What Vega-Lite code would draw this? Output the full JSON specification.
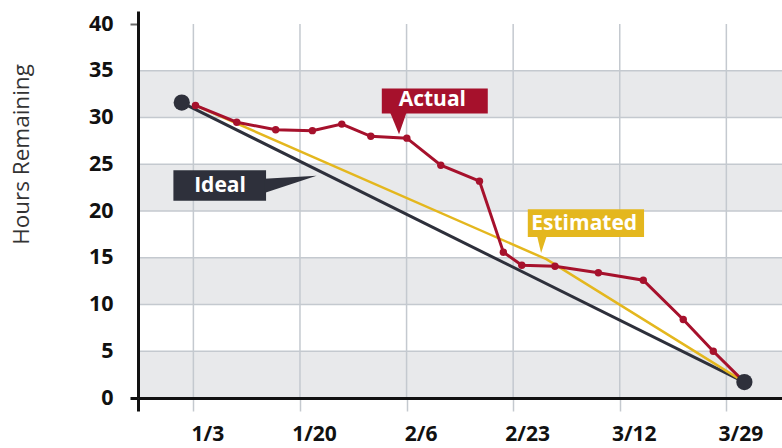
{
  "$schema": "https://vega.github.io/schema/vega-lite/v6.json",
  "width": 644,
  "height": 387,
  "autosize": {"type": "none"},
  "padding": {"left": 138, "top": 11, "right": 0, "bottom": 50},
  "background": "white",
  "config": {"view": {"stroke": null}, "font": "Open Sans"},
  "datasets": {
    "bands": [{"lo": 0, "hi": 5}, {"lo": 10, "hi": 15}, {"lo": 20, "hi": 25}, {"lo": 30, "hi": 35}],
    "grid": [{"v": 5}, {"v": 10}, {"v": 15}, {"v": 20}, {"v": 25}, {"v": 30}, {"v": 35}],
    "ticks": [{"date": "2023-01-03T00:00"}, {"date": "2023-01-20T00:00"}, {"date": "2023-02-06T00:00"}, {"date": "2023-02-23T00:00"}, {"date": "2023-03-12T00:00"}, {"date": "2023-03-29T00:00"}],
    "series": [
      {"series": "Ideal", "date": "2023-01-01T03:30", "hours": 31.6},
      {"series": "Ideal", "date": "2023-03-31T21:00", "hours": 1.7},
      {"series": "Estimated", "date": "2023-01-03T08:00", "hours": 31.3},
      {"series": "Estimated", "date": "2023-02-28T07:00", "hours": 14.85},
      {"series": "Estimated", "date": "2023-03-31T21:00", "hours": 1.7},
      {"series": "Actual", "date": "2023-01-03T08:00", "hours": 31.3},
      {"series": "Actual", "date": "2023-01-09T22:00", "hours": 29.5},
      {"series": "Actual", "date": "2023-01-16T03:00", "hours": 28.7},
      {"series": "Actual", "date": "2023-01-21T23:30", "hours": 28.6},
      {"series": "Actual", "date": "2023-01-26T16:00", "hours": 29.3},
      {"series": "Actual", "date": "2023-01-31T07:00", "hours": 28.0},
      {"series": "Actual", "date": "2023-02-06T01:00", "hours": 27.8},
      {"series": "Actual", "date": "2023-02-11T11:00", "hours": 24.9},
      {"series": "Actual", "date": "2023-02-17T15:00", "hours": 23.2},
      {"series": "Actual", "date": "2023-02-21T10:30", "hours": 15.6},
      {"series": "Actual", "date": "2023-02-24T09:00", "hours": 14.2},
      {"series": "Actual", "date": "2023-03-01T16:00", "hours": 14.1},
      {"series": "Actual", "date": "2023-03-08T14:00", "hours": 13.4},
      {"series": "Actual", "date": "2023-03-15T18:00", "hours": 12.6},
      {"series": "Actual", "date": "2023-03-22T03:00", "hours": 8.4},
      {"series": "Actual", "date": "2023-03-26T22:00", "hours": 5.0},
      {"series": "Actual", "date": "2023-03-31T21:00", "hours": 1.7}
    ],
    "notes": [
      {"series": "Ideal", "x0": "2022-12-30T19:30", "x1": "2023-01-14T14:10", "y0": 21.09, "y1": 24.37, "tx": "2023-01-07T06:00", "ty": 22.05, "px": "2023-01-18T14:00", "py": 22.98},
      {"series": "Actual", "x0": "2023-02-02T01:10", "x1": "2023-02-18T22:50", "y0": 30.44, "y1": 33.12, "tx": "2023-02-10T02:40", "ty": 31.25, "px": "2023-02-04T16:20", "py": 29.35},
      {"series": "Estimated", "x0": "2023-02-25T08:00", "x1": "2023-03-15T21:00", "y0": 17.23, "y1": 20.2, "tx": "2023-03-06T08:00", "ty": 17.93, "px": "2023-02-27T14:00", "py": 16.38}
    ]
  },
  "layer": [
    {
      "mark": {"type": "rect", "fill": "#f6f6f6"},
      "encoding": {"y": {"datum": 0, "type": "quantitative"}, "y2": {"datum": 40}}
    },
    {
      "data": {"name": "bands"},
      "mark": {"type": "rect", "fill": "#e8e9eb"},
      "encoding": {"y": {"field": "lo", "type": "quantitative"}, "y2": {"field": "hi"}}
    },
    {
      "data": {"name": "grid"},
      "mark": {"type": "rule", "stroke": "#c4c9cf", "strokeWidth": 1.5},
      "encoding": {"y": {"field": "v", "type": "quantitative"}}
    },
    {
      "data": {"name": "ticks"},
      "mark": {"type": "rule", "stroke": "#c4c9cf", "strokeWidth": 1.5},
      "encoding": {"x": {"field": "date", "type": "temporal"}, "y": {"datum": 0, "type": "quantitative"}, "y2": {"datum": 40}}
    },
    {
      "mark": {"type": "rule", "stroke": "#6b6b6b", "strokeWidth": 2},
      "encoding": {"y": {"datum": 40, "type": "quantitative"}}
    },
    {
      "data": {"name": "series"},
      "transform": [{"filter": "datum.series == 'Ideal'"}],
      "mark": {"type": "line", "stroke": "#2e303b", "strokeWidth": 3},
      "encoding": {
        "x": {
          "field": "date", "type": "temporal",
          "scale": {"domain": [{"year": 2022, "month": 12, "date": 25, "hours": 4}, {"year": 2023, "month": 4, "date": 6, "hours": 21}], "nice": false},
          "axis": {
            "values": [{"year": 2022, "month": 12, "date": 25, "hours": 4}, {"year": 2023, "month": 1, "date": 3}, {"year": 2023, "month": 1, "date": 20}, {"year": 2023, "month": 2, "date": 6}, {"year": 2023, "month": 2, "date": 23}, {"year": 2023, "month": 3, "date": 12}, {"year": 2023, "month": 3, "date": 29}],
            "labelExpr": "datum.value < time(datetime(2023,0,1)) ? '' : timeFormat(datum.value, '%-m/%-d')",
            "title": null,
            "grid": false,
            "domain": true,
            "domainColor": "#111111",
            "domainWidth": 3,
            "tickSize": 13,
            "tickColor": {"condition": {"test": "datum.value < time(datetime(2023,0,1))", "value": "#111111"}, "value": "#c4c9cf"},
            "tickWidth": {"condition": {"test": "datum.value < time(datetime(2023,0,1))", "value": 3}, "value": 1.5},
            "labelFont": "Open Sans",
            "labelFontSize": 21,
            "labelFontWeight": "bold",
            "labelColor": "#111111",
            "labelPadding": 12,
            "labelOffset": 14,
            "labelFlush": false,
            "labelOverlap": false,
            "zindex": 1
          }
        },
        "y": {
          "field": "hours", "type": "quantitative",
          "scale": {"domain": [0, 41.4], "nice": false, "zero": false},
          "axis": {
            "values": [0, 5, 10, 15, 20, 25, 30, 35, 40],
            "title": "Hours Remaining",
            "grid": false,
            "domainColor": "#111111",
            "domainWidth": 3,
            "tickSize": 8,
            "tickColor": {"condition": [{"test": "datum.value == 0", "value": "#111111"}, {"test": "datum.value == 40", "value": "#6b6b6b"}], "value": "transparent"},
            "tickWidth": {"condition": {"test": "datum.value == 0", "value": 3}, "value": 2},
            "labelFont": "Open Sans",
            "labelFontSize": 21.5,
            "labelFontWeight": "bold",
            "labelColor": "#111111",
            "labelPadding": 17,
            "titleFont": "Open Sans",
            "titleFontSize": 22.5,
            "titleFontWeight": "normal",
            "titleColor": "#333333",
            "titleX": -110,
            "titleY": 143,
            "titleAngle": -90,
            "titleAlign": "center",
            "titleBaseline": "alphabetic",
            "zindex": 1
          }
        }
      }
    },
    {
      "data": {"name": "series"},
      "transform": [{"filter": "datum.series == 'Estimated'"}],
      "mark": {"type": "line", "stroke": "#e4b71e", "strokeWidth": 2.5},
      "encoding": {"x": {"field": "date", "type": "temporal"}, "y": {"field": "hours", "type": "quantitative"}}
    },
    {
      "data": {"name": "series"},
      "transform": [{"filter": "datum.series == 'Actual'"}],
      "mark": {"type": "line", "stroke": "#a6112c", "strokeWidth": 3, "point": {"filled": true, "fill": "#a6112c", "size": 55, "opacity": 1}},
      "encoding": {"x": {"field": "date", "type": "temporal"}, "y": {"field": "hours", "type": "quantitative"}}
    },
    {
      "data": {"name": "series"},
      "transform": [{"filter": "datum.series == 'Ideal'"}],
      "mark": {"type": "point", "filled": true, "fill": "#2e303b", "size": 265, "opacity": 1},
      "encoding": {"x": {"field": "date", "type": "temporal"}, "y": {"field": "hours", "type": "quantitative"}}
    },
    {
      "data": {"name": "notes"},
      "mark": {"type": "rect"},
      "encoding": {
        "x": {"field": "x0", "type": "temporal"}, "x2": {"field": "x1"},
        "y": {"field": "y0", "type": "quantitative"}, "y2": {"field": "y1"},
        "color": {"field": "series", "type": "nominal", "scale": {"domain": ["Actual", "Estimated", "Ideal"], "range": ["#a6112c", "#e4b71e", "#2e303b"]}, "legend": null}
      }
    },
    {
      "data": {"name": "notes"},
      "transform": [{"filter": "datum.series == 'Ideal'"}],
      "mark": {"type": "point", "shape": "M-1.05,-0.17L1,-0.29L-1.05,0.38Z", "size": 2601, "filled": true, "fill": "#2e303b", "opacity": 1},
      "encoding": {"x": {"field": "px", "type": "temporal"}, "y": {"field": "py", "type": "quantitative"}}
    },
    {
      "data": {"name": "notes"},
      "transform": [{"filter": "datum.series == 'Actual'"}],
      "mark": {"type": "point", "shape": "M-0.8,-1.1L0.8,-1.1L0.07,1Z", "size": 441, "filled": true, "fill": "#a6112c", "opacity": 1},
      "encoding": {"x": {"field": "px", "type": "temporal"}, "y": {"field": "py", "type": "quantitative"}}
    },
    {
      "data": {"name": "notes"},
      "transform": [{"filter": "datum.series == 'Estimated'"}],
      "mark": {"type": "point", "shape": "M-0.6,-1.1L0.6,-1.1L-0.1,1Z", "size": 256, "filled": true, "fill": "#e4b71e", "opacity": 1},
      "encoding": {"x": {"field": "px", "type": "temporal"}, "y": {"field": "py", "type": "quantitative"}}
    },
    {
      "data": {"name": "notes"},
      "mark": {"type": "text", "font": "Open Sans", "fontSize": 21, "fontWeight": "bold", "fill": "white", "align": "center", "baseline": "alphabetic"},
      "encoding": {"x": {"field": "tx", "type": "temporal"}, "y": {"field": "ty", "type": "quantitative"}, "text": {"field": "series"}}
    }
  ]
}
